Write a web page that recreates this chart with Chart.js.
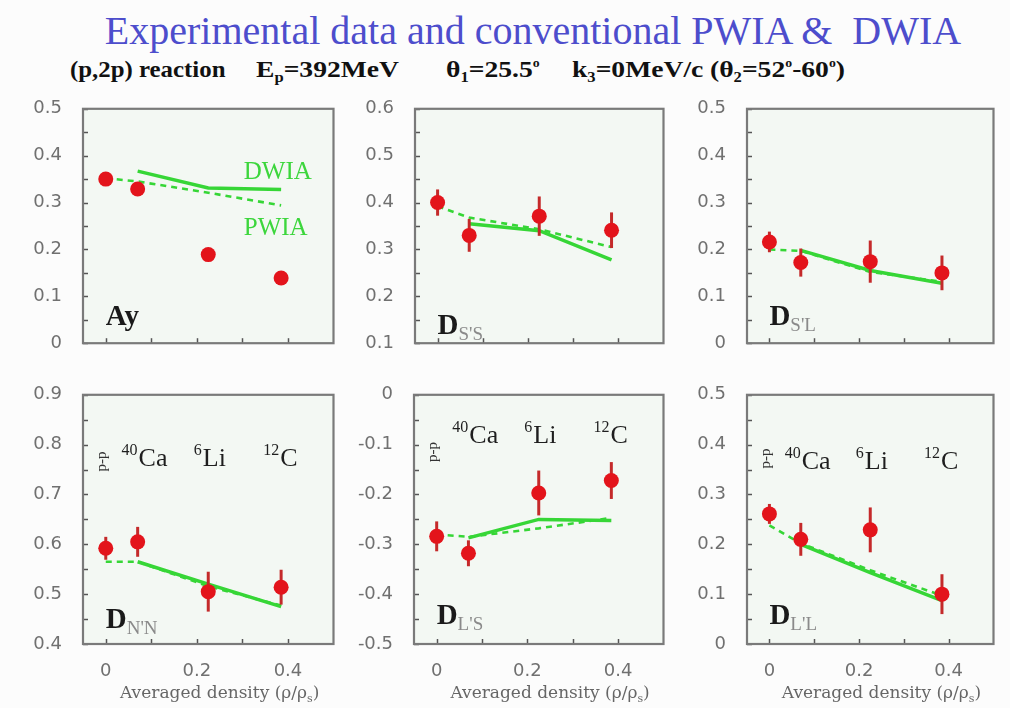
<!DOCTYPE html>
<html>
<head>
<meta charset="utf-8">
<title>(p,2p) polarization observables vs averaged density</title>
<script src="https://cdn.jsdelivr.net/npm/chart.js"></script>
<style>
  body { margin: 0; width: 1010px; height: 708px; background: #fcfcfc; position: relative; overflow: hidden; }
  #title {
    position: absolute; left: 0; width: 1066px; top: 7px; text-align: center;
    font: 40px "Liberation Serif", serif; color: #4d4dcc; white-space: pre;
  }
  .sub {
    position: absolute; top: 57px;
    font: bold 23px "Liberation Serif", serif; color: #111; white-space: pre;
    transform: scaleX(1.2); transform-origin: 0 0;
  }
  .sub sub { font-size: 0.6em; vertical-align: -0.35em; }
  .sub sup { font-size: 0.5em; vertical-align: 0.9em; }
  canvas { position: absolute; }
</style>
</head>
<body>
<div id="title">Experimental data and conventional PWIA &amp;  DWIA</div>
<div class="sub" style="left:70px;transform:scaleX(1.08)">(p,2p) reaction</div>
<div class="sub" style="left:256px">E<sub>p</sub>=392MeV</div>
<div class="sub" style="left:446px">θ<sub>1</sub>=25.5<sup>o</sup></div>
<div class="sub" style="left:572px">k<sub>3</sub>=0MeV/c</div>
<div class="sub" style="left:710px">(θ<sub>2</sub>=52<sup>o</sup>-60<sup>o</sup>)</div>

<canvas id="c1" width="308" height="282" style="left:33px;top:85px"></canvas>
<canvas id="c2" width="306" height="282" style="left:365px;top:85px"></canvas>
<canvas id="c3" width="304" height="282" style="left:697px;top:85px"></canvas>
<canvas id="c4" width="308" height="333" style="left:33px;top:371px"></canvas>
<canvas id="c5" width="317" height="333" style="left:354px;top:371px"></canvas>
<canvas id="c6" width="304" height="333" style="left:697px;top:371px"></canvas>

<script>
// averaged density of p-p, 40Ca, 6Li, 12C
const density = [0, 0.07, 0.225, 0.385];
const xTicks = [0, 0.1, 0.2, 0.3, 0.4];
const xTickLabels = ['0', '', '0.2', '', '0.4'];

// Ay
const ayExp  = [0.350, 0.329, 0.189, 0.139];
const ayErr  = [0.005, 0.005, 0.005, 0.005];
const ayDwia = [null, 0.367, 0.331, 0.328];
const ayPwia = [0.352, 0.345, 0.321, 0.294];

// D_S'S
const dssExp  = [0.400, 0.330, 0.371, 0.341];
const dssErr  = [0.028, 0.035, 0.042, 0.038];
const dssDwia = [null, 0.355, 0.340, 0.278];
const dssPwia = [0.392, 0.368, 0.343, 0.305];

// D_S'L
const dslExp  = [0.216, 0.172, 0.174, 0.150];
const dslErr  = [0.022, 0.030, 0.045, 0.037];
const dslDwia = [null, 0.198, 0.155, 0.128];
const dslPwia = [0.200, 0.197, 0.152, 0.131];

// D_N'N
const dnnExp  = [0.592, 0.605, 0.505, 0.514];
const dnnErr  = [0.023, 0.030, 0.040, 0.035];
const dnnDwia = [null, 0.565, 0.520, 0.475];
const dnnPwia = [0.565, 0.565, 0.516, 0.477];

// D_L'S
const dlsExp  = [-0.284, -0.318, -0.197, -0.172];
const dlsErr  = [0.030, 0.026, 0.045, 0.037];
const dlsDwia = [null, -0.287, -0.250, -0.252];
const dlsPwia = [-0.280, -0.285, -0.268, -0.247];

// D_L'L
const dllExp  = [0.261, 0.210, 0.229, 0.100];
const dllErr  = [0.020, 0.033, 0.045, 0.040];
const dllDwia = [null, 0.200, 0.143, 0.087];
const dllPwia = [0.238, 0.202, 0.148, 0.097];

const SERIF = '"Liberation Serif", serif';
const GREEN = '#36d636';

function pts(ys) {
  return density.map((x, i) => ({ x: x, y: ys[i] })).filter(p => p.y !== null);
}

function obsLabel(sub) {
  return [
    { text: 'D', font: 'bold 29px ' + SERIF, color: '#1a1a1a' },
    { text: sub, font: '19px ' + SERIF, color: '#8a8a8a', dy: 6 }
  ];
}

function nuclei(y, ppY) {
  return [
    { rotate: 'p-p', x: -0.008, y: ppY },
    { x: 0.072, y: y, sup: '40', main: 'Ca' },
    { x: 0.213, y: y, sup: '6', main: 'Li' },
    { x: 0.383, y: y, sup: '12', main: 'C' }
  ];
}

// frame, inner tick marks, error bars and text
const framePlugin = {
  id: 'frame',
  beforeDraw(chart) {
    const a = chart.chartArea, ctx = chart.ctx;
    ctx.save();
    ctx.fillStyle = '#f3f8f3';
    ctx.fillRect(a.left, a.top, a.right - a.left, a.bottom - a.top);
    ctx.restore();
  },
  beforeDatasetDraw(chart, args) {
    if (args.index !== 0) return;
    const ds = chart.data.datasets[0];
    const xs = chart.scales.x, ys = chart.scales.y, ctx = chart.ctx;
    ctx.save();
    ctx.strokeStyle = '#c42a2a';
    ctx.lineWidth = 3;
    ds.data.forEach((p, i) => {
      const e = ds.errors[i];
      const px = xs.getPixelForValue(p.x);
      ctx.beginPath();
      ctx.moveTo(px, ys.getPixelForValue(p.y - e));
      ctx.lineTo(px, ys.getPixelForValue(p.y + e));
      ctx.stroke();
    });
    ctx.restore();
  },
  afterDraw(chart, args, opts) {
    const a = chart.chartArea, ctx = chart.ctx;
    const xs = chart.scales.x, ys = chart.scales.y;
    ctx.save();
    // tick marks pointing into the plot
    ctx.strokeStyle = '#555';
    ctx.lineWidth = 1.5;
    ys.ticks.forEach(t => {
      const py = Math.round(ys.getPixelForValue(t.value)) + 0.5;
      ctx.beginPath(); ctx.moveTo(a.left, py); ctx.lineTo(a.left + 5, py); ctx.stroke();
    });
    xs.ticks.forEach(t => {
      const px = Math.round(xs.getPixelForValue(t.value)) + 0.5;
      ctx.beginPath(); ctx.moveTo(px, a.bottom); ctx.lineTo(px, a.bottom - 5); ctx.stroke();
    });
    ctx.strokeStyle = '#7a7a7a';
    ctx.lineWidth = 2.2;
    ctx.strokeRect(a.left, a.top, a.right - a.left, a.bottom - a.top);

    ctx.textBaseline = 'alphabetic';
    (opts.items || []).forEach(it => {
      const px = xs.getPixelForValue(it.x), py = ys.getPixelForValue(it.y);
      if (it.rotate) {
        ctx.save();
        ctx.translate(px, py);
        ctx.rotate(-Math.PI / 2);
        ctx.font = '15px ' + SERIF;
        ctx.fillStyle = '#333';
        ctx.textAlign = 'center';
        ctx.fillText(it.rotate, 0, 4);
        ctx.restore();
      } else if (it.main) {
        ctx.fillStyle = '#1e1e1e';
        ctx.textAlign = 'left';
        ctx.font = '26px ' + SERIF;
        ctx.fillText(it.main, px, py);
        ctx.textAlign = 'right';
        ctx.font = '16px ' + SERIF;
        ctx.fillText(it.sup, px - 1, py - 11);
      } else {
        let cx = px;
        ctx.textAlign = 'left';
        it.runs.forEach(r => {
          ctx.font = r.font;
          ctx.fillStyle = r.color;
          ctx.fillText(r.text, cx, py + (r.dy || 0));
          cx += ctx.measureText(r.text).width;
        });
      }
    });

    if (opts.axisTitle) {
      const runs = [
        { text: 'Averaged density (ρ/ρ', font: '17px "DejaVu Serif", serif', dy: 0 },
        { text: 's', font: '11px "DejaVu Serif", serif', dy: 4 },
        { text: ')', font: '17px "DejaVu Serif", serif', dy: 0 }
      ];
      let w = 0;
      runs.forEach(r => { ctx.font = r.font; w += ctx.measureText(r.text).width; });
      let cx = xs.getPixelForValue(0.25) - w / 2;
      const by = a.bottom + 54;
      ctx.fillStyle = '#666';
      ctx.textAlign = 'left';
      runs.forEach(r => {
        ctx.font = r.font;
        ctx.fillText(r.text, cx, by + r.dy);
        cx += ctx.measureText(r.text).width;
      });
    }
    ctx.restore();
  }
};

function makePanel(id, exp, err, dwia, pwia, yMin, yMax, bottomRow, items, axisWidth) {
  const yTicks = [];
  for (let i = 0; i <= 10; i++) yTicks.push(Math.round((yMin + i * 0.05) * 100) / 100);

  new Chart(document.getElementById(id), {
    type: 'scatter',
    data: {
      datasets: [
        {
          data: pts(exp), errors: err,
          backgroundColor: '#e3141b', borderWidth: 0, pointRadius: 7.5
        },
        {
          type: 'line', data: pts(dwia), showLine: true, fill: false,
          borderColor: GREEN, borderWidth: 3.5, pointRadius: 0, tension: 0
        },
        {
          type: 'line', data: pts(pwia), showLine: true, fill: false,
          borderColor: GREEN, borderWidth: 2.6, borderDash: [6, 5], pointRadius: 0, tension: 0
        }
      ]
    },
    options: {
      responsive: false,
      animation: false,
      layout: { padding: { top: 12, right: 3, left: 0, bottom: 0 } },
      plugins: {
        legend: { display: false },
        tooltip: { enabled: false },
        frame: { items: items, axisTitle: bottomRow }
      },
      scales: {
        x: {
          type: 'linear', min: -0.05, max: 0.5,
          grid: { display: false }, border: { display: false },
          afterBuildTicks: s => { s.ticks = xTicks.map(v => ({ value: v })); },
          afterFit: s => { s.height = bottomRow ? 60 : 10; },
          ticks: {
            display: bottomRow, padding: 9, color: '#707070', autoSkip: false, maxRotation: 0,
            font: { family: '"DejaVu Sans", sans-serif', size: 18 },
            callback: v => xTickLabels[xTicks.indexOf(v)]
          }
        },
        y: {
          type: 'linear', min: yMin, max: yMax,
          grid: { display: false }, border: { display: false },
          afterBuildTicks: s => { s.ticks = yTicks.map(v => ({ value: v })); },
          afterFit: s => { s.width = axisWidth || 50; },
          ticks: {
            padding: 13, color: '#707070', autoSkip: false,
            font: { family: '"DejaVu Sans", sans-serif', size: 18 },
            callback: v => {
              const k = Math.round(v * 100);
              if (k % 10 !== 0) return '';
              return k === 0 ? '0' : (k / 100).toFixed(1);
            }
          }
        }
      }
    },
    plugins: [framePlugin]
  });
}

makePanel('c1', ayExp, ayErr, ayDwia, ayPwia, 0, 0.5, false, [
  { x: 0, y: 0.038, runs: [{ text: 'Ay', font: 'bold 29px ' + SERIF, color: '#1a1a1a' }] },
  { x: 0.303, y: 0.35, runs: [{ text: 'DWIA', font: '25px ' + SERIF, color: '#3cd63c' }] },
  { x: 0.303, y: 0.23, runs: [{ text: 'PWIA', font: '25px ' + SERIF, color: '#3cd63c' }] }
]);
makePanel('c2', dssExp, dssErr, dssDwia, dssPwia, 0.1, 0.6, false, [
  { x: 0, y: 0.119, runs: obsLabel("S'S") }
]);
makePanel('c3', dslExp, dslErr, dslDwia, dslPwia, 0, 0.5, false, [
  { x: 0, y: 0.038, runs: obsLabel("S'L") }
]);
makePanel('c4', dnnExp, dnnErr, dnnDwia, dnnPwia, 0.4, 0.9, true,
  [{ x: 0, y: 0.433, runs: obsLabel("N'N") }].concat(nuclei(0.758, 0.766)));
makePanel('c5', dlsExp, dlsErr, dlsDwia, dlsPwia, -0.5, 0, true,
  [{ x: 0, y: -0.46, runs: obsLabel("L'S") }].concat(nuclei(-0.096, -0.115)), 60);
makePanel('c6', dllExp, dllErr, dllDwia, dllPwia, 0, 0.5, true,
  [{ x: 0, y: 0.04, runs: obsLabel("L'L") }].concat(nuclei(0.352, 0.372)));
</script>
</body>
</html>
